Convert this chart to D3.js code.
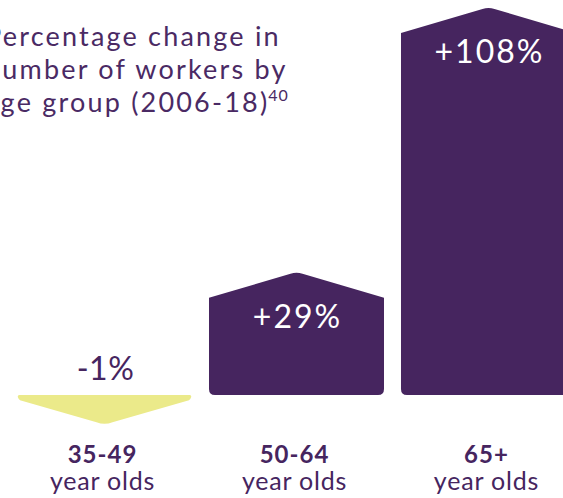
<!DOCTYPE html>
<html>
<head>
<meta charset="utf-8">
<script src="https://cdn.jsdelivr.net/npm/d3@7"></script>
<style>
  body { margin: 0; background: #fff; }
  text { font-family: Lato, "Open Sans", sans-serif; }
</style>
</head>
<body>
<script>
//chart data
var ageGroups = ["35-49", "50-64", "65+"];
var pctChange = [-1, 29, 108];
var valueLabels = ["-1%", "+29%", "+108%"];
var subLabels = ["year olds", "year olds", "year olds"];
var titleLines = ["Percentage change in", "number of workers by", "age group (2006-18)"];
var footnote = "40";

window.onload = function(){

    var w = 563, h = 498;
    var purple = "#46255f", yellow = "#ebea8a";

    var svg = d3.select("body")
        .append("svg")
        .attr("width", w)
        .attr("height", h);

    //band scale for the three age groups
    var x = d3.scaleBand()
        .domain(ageGroups)
        .range([17, 576])
        .paddingInner(0.0885)
        .paddingOuter(0);

    //value scale, baseline sits at 0
    var y = d3.scaleLinear()
        .domain([0, 108])
        .range([395, 33]);

    var roof = 26; //height of the arrow point
    var r = 6;     //corner rounding

    //build house / arrow shape for each bar
    function shape(d, i){
        var x0 = x(ageGroups[i]), x1 = x0 + x.bandwidth(), xm = x0 + x.bandwidth() / 2;
        var base = y(0), top = y(d);
        var p = d3.path();
        if (d >= 0){
            p.moveTo(x0, base - r);
            p.lineTo(x0, top);
            p.lineTo(xm - 6, top - roof + 2);
            p.quadraticCurveTo(xm, top - roof, xm + 6, top - roof + 2);
            p.lineTo(x1, top);
            p.lineTo(x1, base - r);
            p.quadraticCurveTo(x1, base, x1 - r, base);
            p.lineTo(x0 + r, base);
            p.quadraticCurveTo(x0, base, x0, base - r);
        } else {
            p.moveTo(x0 + 2, base);
            p.lineTo(x1 - 2, base);
            p.quadraticCurveTo(x1 + 1, base + 1, x1 - 3, top + 2);
            p.lineTo(xm + 8, top + roof - 2);
            p.quadraticCurveTo(xm, top + roof + 1, xm - 8, top + roof - 2);
            p.lineTo(x0 + 3, top + 2);
            p.quadraticCurveTo(x0 - 1, base + 1, x0 + 2, base);
        }
        p.closePath();
        return p.toString();
    }

    svg.selectAll(".bar")
        .data(pctChange)
        .enter()
        .append("path")
        .attr("class", "bar")
        .attr("d", shape)
        .style("fill", function(d){ return d < 0 ? yellow : purple; });

    //value labels, inside for positive bars, above for negative
    svg.selectAll(".val")
        .data(pctChange)
        .enter()
        .append("text")
        .attr("class", "val")
        .attr("text-anchor", "middle")
        .attr("x", function(d, i){ return x(ageGroups[i]) + x.bandwidth() / 2 + 1; })
        .attr("y", function(d){ return d < 0 ? y(0) - 15 : y(d) + 30; })
        .style("font-size", "32px")
        .style("letter-spacing", function(d){ return d < 0 ? "0.5px" : "2px"; })
        .style("fill", function(d){ return d < 0 ? purple : "#fff"; })
        .text(function(d, i){ return valueLabels[i]; });

    //category labels
    var cats = svg.selectAll(".cat")
        .data(ageGroups)
        .enter()
        .append("text")
        .attr("class", "cat")
        .attr("text-anchor", "middle")
        .style("fill", purple);

    cats.append("tspan")
        .attr("x", function(d){ return x(d) + x.bandwidth() / 2 - 2; })
        .attr("y", 463)
        .style("font-weight", "bold")
        .style("font-size", "24px")
        .style("letter-spacing", "1px")
        .text(function(d){ return d; });

    cats.append("tspan")
        .attr("x", function(d){ return x(d) + x.bandwidth() / 2 - 2; })
        .attr("y", 490)
        .style("font-size", "25px")
        .style("letter-spacing", "0.8px")
        .text(function(d, i){ return subLabels[i]; });

    //title, runs off the left edge like the original crop
    var title = svg.append("text")
        .attr("class", "title")
        .style("font-size", "27px")
        .style("letter-spacing", "2.2px")
        .style("fill", "#4a2a64");

    title.selectAll("tspan.line")
        .data(titleLines)
        .enter()
        .append("tspan")
        .attr("class", "line")
        .attr("x", -15)
        .attr("y", function(d, i){ return 46 + i * 33; })
        .text(function(d){ return d; });

    title.append("tspan")
        .attr("dy", -11)
        .attr("dx", -1)
        .style("font-size", "16px")
        .style("letter-spacing", "1px")
        .text(footnote);
};
</script>
</body>
</html>
